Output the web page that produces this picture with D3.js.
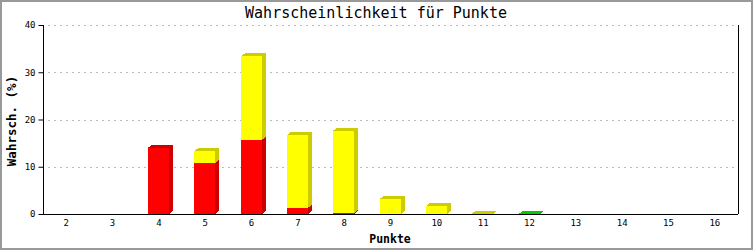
<!DOCTYPE html>
<html><head><meta charset="utf-8">
<script src="https://cdn.jsdelivr.net/npm/d3@7"></script>
<style>body{margin:0;background:#fff}svg{display:block}</style>
</head><body>
<svg id="c" width="753" height="250"></svg>
<script>
const categories = ["2","3","4","5","6","7","8","9","10","11","12","13","14","15","16"];
const redValues    = [0,0,14.0,10.8,15.7,1.3,0.2,0,0,0,0,0,0,0,0];
const yellowValues = [0,0,0,2.5,17.7,15.4,17.4,3.2,1.7,0.1,0,0,0,0,0];
const greenValues  = [0,0,0,0,0,0,0,0,0,0,0.05,0,0,0,0];
const yTicks = [0,10,20,30,40];
const title = "Wahrscheinlichkeit für Punkte";
const xTitle = "Punkte";
const yTitle = "Wahrsch. (%)";

const series = [
  {name:"rot", values: redValues, front:"#ff0000", side:"#cc0000"},
  {name:"gelb", values: yellowValues, front:"#ffff00", side:"#cccc00"},
  {name:"grün", values: greenValues, front:"#00dd00", side:"#00cc00"}
];

const svg = d3.select("#c");
const L = 43, R = 738, T = 25, B = 214;
const x = d3.scaleBand().domain(categories).range([L, R]);
const y = d3.scaleLinear().domain([0, 40]).range([B, T]);
const mono = "'DejaVu Sans Mono', 'Liberation Mono', monospace";

svg.append("rect").attr("x",1).attr("y",1).attr("width",751).attr("height",248)
  .attr("fill","#fff").attr("stroke","#999").attr("stroke-width",2);

// grid
svg.append("g").selectAll("line").data(yTicks.filter(d=>d>0)).join("line")
  .attr("x1", L+5).attr("x2", R-2)
  .attr("y1", d=>Math.round(y(d))+0.5).attr("y2", d=>Math.round(y(d))+0.5)
  .attr("stroke","#bbb").attr("stroke-dasharray","2,4");

// bars (3D)
const bw = 21, dx = 4, dy = 3;
const gBars = svg.append("g").attr("shape-rendering","crispEdges");
categories.forEach((c, i) => {
  let base = 0;
  const segs = [];
  series.forEach(s => {
    const v = s.values[i];
    if (v > 0) { segs.push({s, y0: base, y1: base + v}); base += v; }
  });
  const x0 = Math.round(x(c) + x.bandwidth()/2 - 11);
  segs.forEach((seg, k) => {
    const yt = y(seg.y1), yb = y(seg.y0);
    gBars.append("polygon")
      .attr("points", [[x0+bw, yb],[x0+bw+dx, yb-dy],[x0+bw+dx, yt-dy],[x0+bw, yt]].map(p=>p.join(",")).join(" "))
      .attr("fill", seg.s.side);
    gBars.append("rect").attr("x", x0).attr("y", yt).attr("width", bw).attr("height", Math.max(0, yb-yt))
      .attr("fill", seg.s.front);
    if (k === segs.length-1) {
      gBars.append("polygon")
        .attr("points", [[x0, yt],[x0+dx, yt-dy],[x0+bw+dx, yt-dy],[x0+bw, yt]].map(p=>p.join(",")).join(" "))
        .attr("fill", seg.s.side);
    }
  });
});

// axes
const yAxis = svg.append("g").attr("transform", `translate(${L+0.5},0)`)
  .call(d3.axisLeft(y).tickValues(yTicks).tickSize(5).tickPadding(3));
yAxis.select(".domain").attr("stroke","#000").attr("d", `M0,${T}V${B}`);
yAxis.selectAll("text").attr("font-family", mono).attr("font-size", 9).attr("fill","#000");

const xAxis = svg.append("g").attr("transform", `translate(0,${B+0.5})`)
  .call(d3.axisBottom(x).tickSize(0).tickPadding(5));
xAxis.select(".domain").attr("stroke","#000").attr("d", `M${L},0H${R}`);
xAxis.selectAll("text").attr("font-family", mono).attr("font-size", 9).attr("fill","#000");

svg.append("line").attr("x1", R+0.5).attr("x2", R+0.5).attr("y1", T).attr("y2", B)
  .attr("stroke","#000");

svg.append("text").attr("x", 376).attr("y", 18).attr("text-anchor","middle")
  .attr("font-family", mono).attr("font-size", 15).text(title);
svg.append("text").attr("x", 390).attr("y", 243).attr("text-anchor","middle")
  .attr("font-family", mono).attr("font-size", 11.5).attr("font-weight","bold").text(xTitle);
svg.append("text").attr("transform","translate(16,121) rotate(-90)").attr("text-anchor","middle")
  .attr("font-family", mono).attr("font-size", 12.5).attr("font-weight","bold").text(yTitle);
</script>
</body></html>
